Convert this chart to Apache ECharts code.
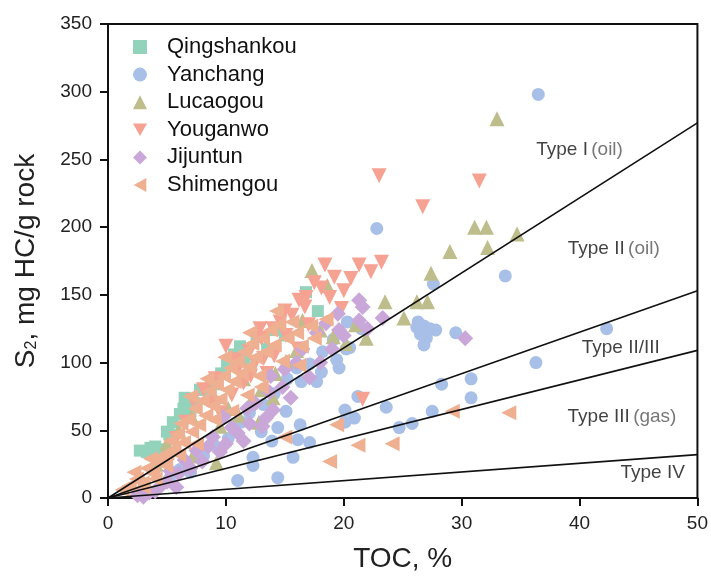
<!DOCTYPE html>
<html>
<head>
<meta charset="utf-8">
<script src="https://cdn.jsdelivr.net/npm/echarts@6/dist/echarts.min.js"></script>
<style>
  html, body { margin: 0; padding: 0; background: #fff; }
  #chart { width: 711px; height: 578px; }
</style>
</head>
<body>
<div id="chart"></div>
<script>
// TOC (%) vs S2 (mg HC/g rock)
const qingshankou = [
  [2.7, 35], [3.3, 34], [3.6, 37], [4.0, 38], [4.5, 36], [5.0, 49], [5.2, 47], [5.5, 56],
  [6.1, 62], [6.4, 66], [6.5, 74], [7.0, 64], [7.3, 70], [7.8, 80], [8.2, 80], [8.6, 73],
  [9.1, 84], [9.6, 92], [10.1, 100], [10.7, 106], [11.2, 112], [11.6, 103], [12.6, 119],
  [12.1, 96], [13.5, 110], [14.1, 124], [15.0, 120], [16.8, 152], [17.8, 138]
];

const yanchang = [
  [36.5, 298], [22.8, 199], [33.7, 164], [42.3, 125], [36.3, 100], [29.5, 122], [27.6, 158],
  [26.3, 130], [26.8, 127], [27.3, 125], [27.8, 124], [26.5, 121], [27.0, 118], [26.8, 113],
  [26.2, 126], [28.3, 84], [30.8, 88], [30.8, 74], [27.5, 64], [25.8, 55], [24.7, 52],
  [23.6, 67], [20.1, 65], [20.9, 59], [21.2, 75], [20.1, 56], [14.4, 52], [16.3, 54],
  [16.1, 43], [17.1, 41], [15.7, 30], [14.4, 15], [13.9, 42], [11.0, 13], [12.3, 30],
  [12.3, 24], [7.0, 19], [19.4, 102], [20.2, 110], [17.7, 86], [16.4, 86], [20.3, 130],
  [20.5, 111], [5.2, 14], [6.1, 21], [8.1, 31], [9.0, 39], [10.2, 44], [11.3, 56],
  [12.0, 63], [13.2, 69], [14.1, 77], [15.2, 88], [16.0, 96], [17.1, 99], [18.2, 108],
  [19.1, 117], [15.1, 64], [13.0, 49], [18.1, 93], [19.6, 96], [21.5, 125]
];

const lucaogou = [
  [33.0, 280], [31.1, 200], [32.1, 200], [34.7, 195], [29.0, 182], [32.2, 185], [27.4, 166],
  [23.5, 145], [26.2, 145], [27.1, 145], [25.1, 133], [21.9, 118], [17.3, 168], [18.6, 157],
  [16.5, 131], [18.0, 124], [19.1, 119], [20.2, 114], [8.6, 87], [9.0, 75], [7.1, 60],
  [6.0, 50], [11.1, 61], [12.1, 71], [13.0, 80], [14.2, 92], [15.1, 101], [10.2, 66],
  [5.0, 40], [4.1, 25], [3.0, 12], [9.5, 53], [12.8, 56], [7.2, 31], [9.2, 26], [14.0, 74],
  [21.0, 128], [16.0, 109], [11.5, 88]
];

const youganwo = [
  [23.0, 238], [31.5, 234], [26.7, 215], [18.4, 172], [19.2, 163], [17.5, 159], [18.1, 155],
  [20.0, 153], [18.8, 148], [19.8, 140], [16.8, 148], [16.7, 141], [21.3, 172], [23.2, 174],
  [22.3, 167], [21.6, 73], [10.0, 112], [7.2, 72], [14.0, 125], [14.6, 130], [13.0, 118],
  [12.0, 108], [12.5, 100], [11.0, 95], [9.1, 88], [8.1, 80], [15.1, 120], [15.6, 135],
  [16.1, 110], [13.5, 92], [11.5, 85], [17.0, 128], [10.5, 76], [6.6, 56], [9.5, 63],
  [12.1, 90], [14.1, 105], [16.2, 146], [20.6, 162], [13.2, 103], [8.8, 70], [10.8, 102],
  [5.8, 44], [12.9, 125], [15.0, 138]
];

const jijuntun = [
  [30.3, 118], [21.3, 146], [21.6, 141], [21.3, 131], [23.3, 133], [18.5, 129], [19.6, 124],
  [17.7, 122], [17.1, 89], [14.8, 82], [13.7, 78], [13.4, 59], [13.1, 53], [8.9, 45],
  [9.5, 34], [8.0, 27], [5.8, 8], [3.0, 1], [2.5, 2], [4.0, 5], [5.0, 12], [6.0, 18],
  [7.0, 22], [10.0, 40], [11.0, 48], [12.0, 55], [12.5, 70], [15.0, 95], [16.0, 100],
  [16.5, 110], [18.0, 100], [19.0, 110], [20.0, 120], [22.0, 125], [14.0, 65], [10.5, 52],
  [7.5, 35], [6.5, 28], [11.5, 42], [3.5, 4], [4.5, 9], [19.5, 136], [15.5, 74],
  [8.5, 38], [9.8, 60], [11.8, 66], [13.8, 90], [5.3, 20]
];

const shimengou = [
  [1.2, 6], [1.8, 9], [2.4, 14], [2.9, 11], [3.3, 22], [3.8, 18], [4.2, 27], [4.6, 31],
  [4.9, 24], [5.3, 42], [5.6, 36], [5.9, 47], [6.2, 55], [6.4, 41], [6.8, 58], [7.1, 49],
  [7.4, 66], [7.7, 54], [8.0, 72], [8.3, 61], [8.6, 79], [8.9, 68], [9.2, 84], [9.5, 73],
  [9.8, 90], [10.1, 80], [10.4, 96], [10.7, 86], [11.0, 101], [11.3, 92], [11.6, 108],
  [11.9, 97], [12.2, 114], [12.5, 104], [12.8, 90], [13.1, 118], [13.4, 108], [13.8, 124],
  [14.1, 113], [14.5, 128], [14.8, 101], [15.2, 118], [15.6, 130], [16.0, 122], [16.4, 112],
  [17.2, 127], [6.0, 32], [7.5, 40], [9.0, 58], [10.5, 64], [11.8, 76], [13.0, 82],
  [16.2, 98], [17.5, 118], [18.5, 132], [4.0, 14], [3.0, 8], [2.2, 19], [3.6, 29],
  [5.0, 33], [7.0, 75], [8.4, 88], [9.9, 104], [12.0, 122], [14.3, 138],
  [19.4, 54], [15.0, 45], [21.2, 39], [18.8, 27], [24.1, 40], [29.2, 64], [34.0, 63]
];

// kerogen type boundary lines: S2 at TOC = 50
const lineEndToc = 50;
const lineEndS2 = [277, 153, 109, 32];

const typeLabels = [
  { name: 'Type I', extra: '(oil)', pos: [40.0, 257] },
  { name: 'Type II', extra: '(oil)', pos: [42.9, 184] },
  { name: 'Type II/III', extra: '', pos: [43.5, 111] },
  { name: 'Type III', extra: '(gas)', pos: [43.6, 60] },
  { name: 'Type IV', extra: '', pos: [46.2, 18.5] }
];

const xTicks = [0, 50, 10];
const yTicks = [0, 350, 50];

const FONT = 'Liberation Sans, Arial, sans-serif';

const seriesInfo = [
  { name: 'Qingshankou', data: qingshankou, symbol: 'rect', size: 12, color: '#93d3bb' },
  { name: 'Yanchang', data: yanchang, symbol: 'circle', size: 13, color: '#a8c0e8' },
  { name: 'Lucaogou', data: lucaogou, symbol: 'triangle', size: 15, color: '#bebd8c' },
  { name: 'Youganwo', data: youganwo, symbol: 'path://M0,0L10,0L5,9Z', size: 15, color: '#f6a293' },
  { name: 'Jijuntun', data: jijuntun, symbol: 'diamond', size: 16, color: '#c9a7d9' },
  { name: 'Shimengou', data: shimengou, symbol: 'path://M0,5L9,0L9,10Z', size: 15, color: '#efb092' }
];

const chart = echarts.init(document.getElementById('chart'));

const scatterSeries = seriesInfo.map(s => ({
  name: s.name,
  type: 'scatter',
  data: s.data,
  symbol: s.symbol,
  symbolSize: s.size,
  itemStyle: { color: s.color, opacity: 1 },
  z: 2
}));

const lineSeries = lineEndS2.map(v => ({
  type: 'line',
  data: [[0, 0], [lineEndToc, v]],
  symbol: 'none',
  lineStyle: { color: '#111', width: 1.6 },
  silent: true,
  z: 3
}));

const labelSeries = {
  type: 'scatter',
  symbolSize: 0,
  silent: true,
  z: 4,
  data: typeLabels.map(t => ({ value: t.pos, name: t.name, extra: t.extra })),
  label: {
    show: true,
    position: 'inside',
    formatter: p => p.data.extra ? `{a|${p.data.name}} {b|${p.data.extra}}` : `{a|${p.data.name}}`,
    rich: {
      a: { fontFamily: FONT, fontSize: 19, color: '#111' },
      b: { fontFamily: FONT, fontSize: 19, color: '#555' }
    }
  }
};

chart.setOption({
  animation: false,
  grid: {
    left: 108, right: 13, top: 24, bottom: 80,
    show: true, borderColor: '#111', borderWidth: 2
  },
  legend: {
    left: 128, top: 31,
    orient: 'vertical',
    itemWidth: 14, itemHeight: 14, itemGap: 5.6,
    data: seriesInfo.map(s => s.name),
    textStyle: { fontFamily: FONT, fontSize: 22, color: '#111', padding: [0, 0, 0, 15] }
  },
  xAxis: {
    type: 'value',
    min: xTicks[0], max: xTicks[1], interval: xTicks[2],
    name: 'TOC, %',
    nameLocation: 'middle',
    nameGap: 47,
    nameTextStyle: { fontFamily: FONT, fontSize: 28, color: '#222' },
    axisLine: { lineStyle: { color: '#111', width: 2 } },
    axisTick: { show: true, length: 8, lineStyle: { color: '#111', width: 2 } },
    axisLabel: { fontFamily: FONT, fontSize: 19, color: '#222', margin: 16 },
    splitLine: { show: false }
  },
  yAxis: {
    type: 'value',
    min: yTicks[0], max: yTicks[1], interval: yTicks[2],
    name: 'S{sub|2}, mg HC/g rock',
    nameLocation: 'middle',
    nameGap: 68,
    nameTextStyle: {
      fontFamily: FONT, fontSize: 28, color: '#222',
      rich: { sub: { fontFamily: FONT, fontSize: 16, color: '#222', verticalAlign: 'bottom', padding: [12, 0, 0, 0] } }
    },
    axisLine: { lineStyle: { color: '#111', width: 2 } },
    axisTick: { show: true, length: 8, lineStyle: { color: '#111', width: 2 } },
    axisLabel: { fontFamily: FONT, fontSize: 19, color: '#222', margin: 16 },
    splitLine: { show: false }
  },
  series: [...scatterSeries, ...lineSeries, labelSeries]
});
</script>
</body>
</html>
